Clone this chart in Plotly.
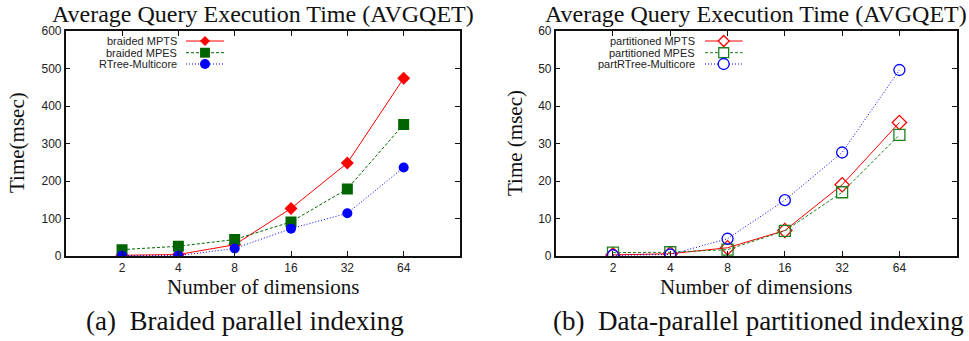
import numpy as np
import plotly.graph_objects as go

# ---------------- data ----------------
dims = [2, 4, 8, 16, 32, 64]
dim_labels = ["2", "4", "8", "16", "32", "64"]

braided_mpts = [2, 4, 30, 127, 248, 474]
braided_mpes = [17, 26, 44, 91, 179, 351]
rtree_multicore = [1, 1, 20, 73, 114, 236]

part_mpts = [0.3, 0.6, 2.2, 6.8, 19.0, 35.6]
part_mpes = [0.9, 1.0, 1.7, 6.7, 17.0, 32.3]
part_rtree = [0.2, 0.4, 4.6, 14.9, 27.6, 49.6]

left_names = ["braided MPTS", "braided MPES", "RTree-Multicore"]
right_names = ["partitioned MPTS", "partitioned MPES", "partRTree-Multicore"]

title_text = "Average Query Execution Time (AVGQET)"
xtitle_text = "Number of dimensions"
caption_a = "(a)\u00a0 Braided parallel indexing"
caption_b = "(b)\u00a0 Data-parallel partitioned indexing"

# ---------------- geometry ----------------
W, H = 969, 341
def px(x):
    return x / W
def py(y):
    return 1 - y / H

xpos = np.log2(dims)

RED, GREEN, BLUE = "#ff0000", "#006400", "#0000ff"
GREEN_OPEN = "#1e801e"
SERIF = "Liberation Serif"
SANS = "Liberation Sans"

fig = go.Figure()

styles_left = [
    dict(color=RED, dash="solid", symbol="diamond", size=10),
    dict(color=GREEN, dash="3px,2px", symbol="square", size=11),
    dict(color=BLUE, dash="1px,2px", symbol="circle", size=10),
]
styles_right = [
    dict(color=RED, dash="solid", symbol="diamond-open", size=11),
    dict(color=GREEN_OPEN, dash="3px,2px", symbol="square-open", size=11),
    dict(color=BLUE, dash="1px,2px", symbol="circle-open", size=11),
]

for vals, name, st in zip([braided_mpts, braided_mpes, rtree_multicore], left_names, styles_left):
    fig.add_trace(go.Scatter(
        x=xpos, y=vals, name=name, mode="lines+markers", xaxis="x", yaxis="y",
        line=dict(color=st["color"], width=1, dash=st["dash"]),
        marker=dict(symbol=st["symbol"], size=st["size"], color=st["color"],
                    line=dict(width=0)),
        showlegend=False))

for vals, name, st in zip([part_mpts, part_mpes, part_rtree], right_names, styles_right):
    fig.add_trace(go.Scatter(
        x=xpos, y=vals, name=name, mode="lines+markers", xaxis="x2", yaxis="y2",
        line=dict(color=st["color"], width=1, dash=st["dash"]),
        marker=dict(symbol=st["symbol"], size=st["size"], color=st["color"],
                    line=dict(width=1.3, color=st["color"])),
        showlegend=False))

axis_common = dict(
    showline=True, linecolor="#111", linewidth=1.5, mirror="ticks",
    ticks="inside", ticklen=5, tickwidth=1, tickcolor="#111",
    showgrid=False, zeroline=False,
    tickfont=dict(family=SANS, size=12, color="#222"),
)

xdom_l = [px(65.7), px(460)]
xdom_r = [px(555.7), px(956.7)]
ydom = [py(256), py(31)]

fig.update_layout(
    width=W, height=H,
    margin=dict(l=0, r=0, t=0, b=0),
    paper_bgcolor="white", plot_bgcolor="white",
    xaxis=dict(domain=xdom_l, range=[0, 7], tickvals=list(xpos), ticktext=dim_labels,
               anchor="y", automargin=False, **axis_common),
    yaxis=dict(domain=ydom, range=[0, 600], tickvals=[0, 100, 200, 300, 400, 500, 600],
               anchor="x", automargin=False, **axis_common),
    xaxis2=dict(domain=xdom_r, range=[0, 7], tickvals=list(xpos), ticktext=dim_labels,
                anchor="y2", automargin=False, **axis_common),
    yaxis2=dict(domain=ydom, range=[0, 60], tickvals=[0, 10, 20, 30, 40, 50, 60],
                anchor="x2", automargin=False, **axis_common),
    showlegend=False,
)

annotations = []
def ann(text, x, y, size, family=SERIF, xanchor="center", yanchor="middle", angle=0, color="#111"):
    annotations.append(dict(text=text, x=px(x), y=py(y), xref="paper", yref="paper",
                            xanchor=xanchor, yanchor=yanchor, showarrow=False,
                            textangle=angle, font=dict(family=family, size=size, color=color)))

# titles
ann(title_text, 262.5, 14, 24)
ann(title_text, 756, 14, 24)
# axis titles
ann(xtitle_text, 262.5, 286.5, 21)
ann(xtitle_text, 756, 286.5, 21)
ann("Time(msec)", 17, 143, 21, angle=-90)
ann("Time (msec)", 515, 143, 21, angle=-90)
# captions
ann(caption_a, 245, 321, 27)
ann(caption_b, 758, 321, 27)

# manual legends (text left, sample right, gnuplot style)
shapes = []
rows = [41, 52.7, 64]
def legend(names, styles, text_right, line_x0, line_x1, mark_x, filled):
    for nm, st, yy in zip(names, styles, rows):
        ann(nm, text_right, yy, 11, family=SANS, xanchor="right", color="#222")
        shapes.append(dict(type="line", xref="paper", yref="paper",
                           x0=px(line_x0), x1=px(line_x1), y0=py(yy), y1=py(yy),
                           line=dict(color=st["color"], width=1, dash=st["dash"])))
        r = st["size"] / 2
        fill = st["color"] if filled else "white"
        lw = 0 if filled else 1.3
        sym = st["symbol"].replace("-open", "")
        if sym == "circle":
            shapes.append(dict(type="circle", xref="paper", yref="paper",
                               x0=px(mark_x - r), x1=px(mark_x + r), y0=py(yy - r), y1=py(yy + r),
                               fillcolor=fill, line=dict(color=st["color"], width=lw)))
        elif sym == "square":
            r2 = r * 0.9
            shapes.append(dict(type="rect", xref="paper", yref="paper",
                               x0=px(mark_x - r2), x1=px(mark_x + r2), y0=py(yy - r2), y1=py(yy + r2),
                               fillcolor=fill, line=dict(color=st["color"], width=lw)))
        else:
            path = "M {a},{b} L {c},{d} L {a},{e} L {f},{d} Z".format(
                a=px(mark_x), b=py(yy - r), c=px(mark_x + r), d=py(yy), e=py(yy + r), f=px(mark_x - r))
            shapes.append(dict(type="path", xref="paper", yref="paper", path=path,
                               fillcolor=fill, line=dict(color=st["color"], width=lw)))

legend(left_names, styles_left, 179, 186, 224, 205, True)
legend(right_names, styles_right, 697.3, 705, 742.7, 723.7, False)

fig.update_layout(annotations=annotations, shapes=shapes)
fig.write_html("out.html")
